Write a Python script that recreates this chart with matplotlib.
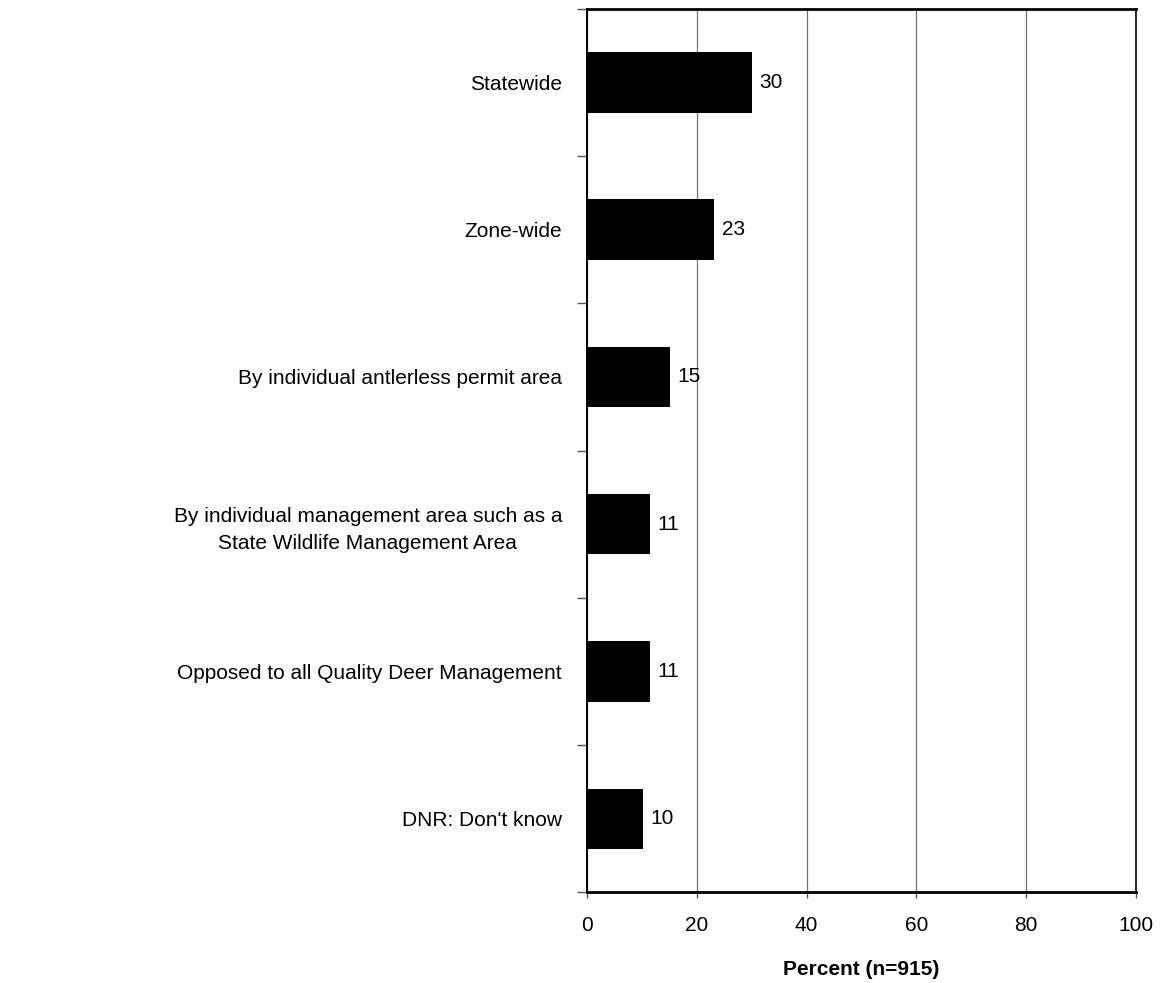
import matplotlib
matplotlib.use("Agg")
import matplotlib.pyplot as plt
import numpy as np

plt.rcParams['font.family'] = ['Liberation Sans', 'DejaVu Sans']

categories = [
    "Statewide",
    "Zone-wide",
    "By individual antlerless permit area",
    "By individual management area such as a\nState Wildlife Management Area",
    "Opposed to all Quality Deer Management",
    "DNR: Don't know",
]
values = [30.0, 23.2, 15.1, 11.4, 11.4, 10.2]
labels = ["30", "23", "15", "11", "11", "10"]
xticks = [0, 20, 40, 60, 80, 100]
xlabel = "Percent (n=915)"

FS = 15

fig = plt.figure(figsize=(11.65, 9.83), dpi=100)
ax = fig.add_axes([0.5039, 0.0921, 0.4712, 0.899])

n = len(categories)
ypos = np.arange(n)
ax.barh(ypos, values, height=0.41, color='black', zorder=3)
for y, v, t in zip(ypos, values, labels):
    ax.text(v + 1.4, y, t, va='center', ha='left', fontsize=FS, zorder=4)

ax.set_xlim(0, 100)
ax.set_ylim(n - 0.5, -0.5)
ax.set_xticks(xticks)
ax.set_xticklabels([str(t) for t in xticks], fontsize=FS)
ax.tick_params(axis='x', length=4, width=1, color='#555555', pad=13)

ax.set_yticks(np.arange(-0.5, n, 1.0))
ax.set_yticklabels([])
ax.tick_params(axis='y', which='major', length=7, width=1, color='#555555')
ax.set_yticks(ypos, minor=True)
ax.set_yticklabels(categories, minor=True, fontsize=FS, multialignment='center',
                   linespacing=1.5)
ax.tick_params(axis='y', which='minor', length=0, pad=18)

ax.grid(axis='x', color='#707070', linewidth=0.9, zorder=0)
ax.set_axisbelow(True)

ax.spines['top'].set_linewidth(2.0)
ax.spines['bottom'].set_linewidth(2.0)
ax.spines['left'].set_linewidth(1.4)
ax.spines['right'].set_linewidth(1.2)
for s in ax.spines.values():
    s.set_color('black')

ax.set_xlabel(xlabel, fontsize=FS, fontweight='bold', labelpad=18)

fig.savefig("out.png", dpi=100, facecolor='white')
